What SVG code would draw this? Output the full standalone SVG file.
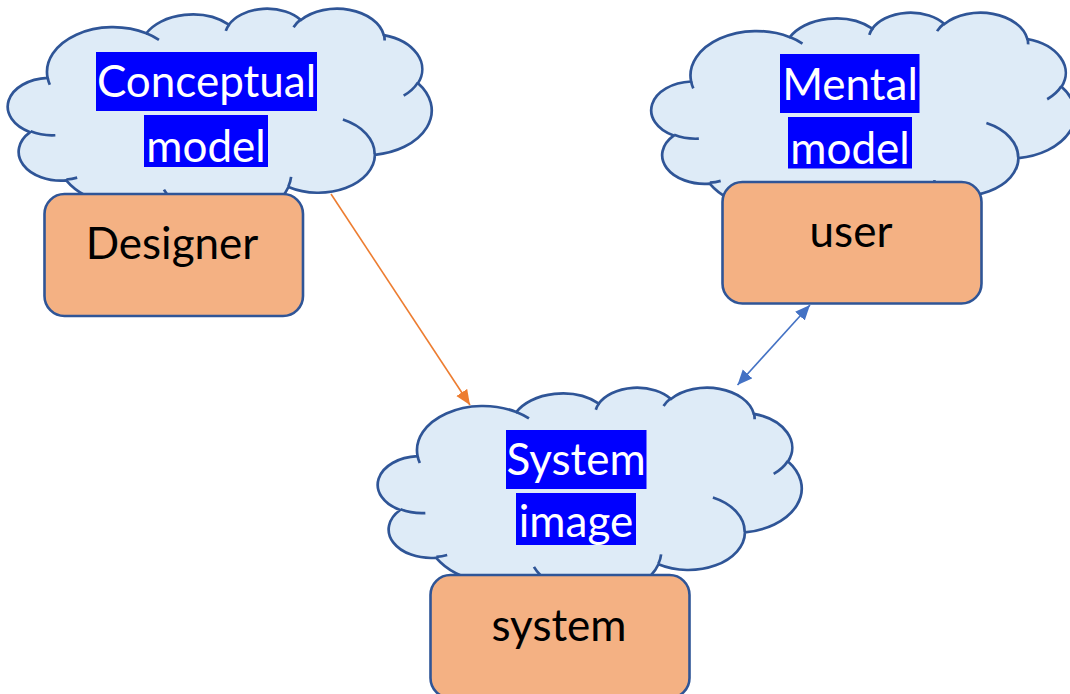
<svg xmlns="http://www.w3.org/2000/svg" xmlns:xlink="http://www.w3.org/1999/xlink" width="1070" height="694" viewBox="0 0 1070 694">
<style>
.cloud{fill:#DEEBF7;stroke:#2F5597;stroke-width:2.7;vector-effect:non-scaling-stroke}
.fold{fill:none;stroke:#2F5597;stroke-width:2.7;vector-effect:non-scaling-stroke}
.box{fill:#F4B183;stroke:#2F5597;stroke-width:2.6}
.hl{fill:#0000FF}
.ct{font-family:Lato,"Liberation Sans",sans-serif;font-size:44px;fill:#FFFFFF;text-anchor:middle}
.bt{font-family:Lato,"Liberation Sans",sans-serif;font-size:44px;fill:#000000;text-anchor:middle}
.a1{stroke:#ED7D31;stroke-width:1.6;fill:none}
.a2{stroke:#4472C4;stroke-width:1.6;fill:none}
</style>
<defs>
<g id="cloudshape">
<path class="cloud" d="M3900,14370 A6753,9190 0 0 1 14006,5203 A5333,7267 0 0 1 22457,3433 A4365,5945 0 0 1 29834,2480 A4857,6595 0 0 1 38319,5575 A5333,7273 0 0 1 41820,15459 A6775,9220 0 0 1 37406,30202 A5785,7867 0 0 1 28558,36813 A6752,9215 0 0 1 16483,39264 A7720,10543 0 0 1 5806,35470 A4360,5918 0 0 1 2114,25548 A4345,5945 0 0 1 3900,14370 Z"/>
<path class="fold" d="M4693,26177 A4345,5945 0 0 1 2159,25379 M6928,34899 A4360,5918 0 0 1 5820,35280 M16478,39090 A6752,9215 0 0 1 15810,37349 M28827,34751 A6752,9215 0 0 1 28560,36661 M34129,22954 A5785,7867 0 0 1 37381,30090 M41798,15354 A5333,7273 0 0 1 40350,18030 M38324,5426 A4857,6595 0 0 1 38400,6690 M29078,3952 A4857,6595 0 0 1 29820,2340 M22141,4720 A4365,5945 0 0 1 22500,3332 M14000,5192 A6753,9190 0 0 1 15300,6541 M4127,15789 A6753,9190 0 0 1 3900,14370"/>
</g>
<marker id="ao" markerUnits="userSpaceOnUse" markerWidth="16" markerHeight="14" viewBox="0 0 16 14" refX="15" refY="6.5" orient="auto"><path d="M0,0 L15,6.5 L0,13 z" fill="#ED7D31"/></marker>
<marker id="ab" markerUnits="userSpaceOnUse" markerWidth="16" markerHeight="14" viewBox="0 0 16 14" refX="15" refY="6.5" orient="auto-start-reverse"><path d="M0,0 L15,6.5 L0,13 z" fill="#4472C4"/></marker>
</defs>
<g id="conceptual">
<use xlink:href="#cloudshape" transform="translate(9.5,8) scale(0.009769,0.004861)"/>
<rect class="hl" x="96" y="52" width="221" height="59"/>
<rect class="hl" x="144" y="115" width="124" height="52"/>
<text class="ct" x="206.5" y="97">Conceptual</text>
<text class="ct" x="206" y="161.5">model</text>
</g>
<g id="designer">
<rect class="box" x="44.5" y="194" width="258.5" height="122" rx="20"/>
<text class="bt" x="172" y="259">Designer</text>
</g>
<g id="mental">
<use xlink:href="#cloudshape" transform="translate(653,12) scale(0.009769,0.004838)"/>
<rect class="hl" x="780" y="54" width="139.5" height="59"/>
<rect class="hl" x="788" y="117" width="124" height="51.5"/>
<text class="ct" x="850" y="100">Mental</text>
<text class="ct" x="850" y="164">model</text>
</g>
<g id="user">
<rect class="box" x="722.5" y="182" width="259" height="121.5" rx="20"/>
<text class="bt" x="851" y="246.5">user</text>
</g>
<g id="sysimage">
<use xlink:href="#cloudshape" transform="translate(379.5,387) scale(0.009769,0.004815)"/>
<rect class="hl" x="506" y="430" width="140.5" height="59"/>
<rect class="hl" x="516" y="493" width="120" height="52"/>
<text class="ct" x="576" y="475">System</text>
<text class="ct" x="576" y="537">image</text>
</g>
<g id="system">
<rect class="box" x="430.5" y="575" width="259" height="123" rx="20"/>
<text class="bt" x="559" y="641">system</text>
</g>
<g id="connectors">
<line class="a1" x1="331" y1="194" x2="470" y2="405" marker-end="url(#ao)"/>
<line class="a2" x1="810" y1="305" x2="737.5" y2="385" marker-start="url(#ab)" marker-end="url(#ab)"/>
</g>
</svg>
